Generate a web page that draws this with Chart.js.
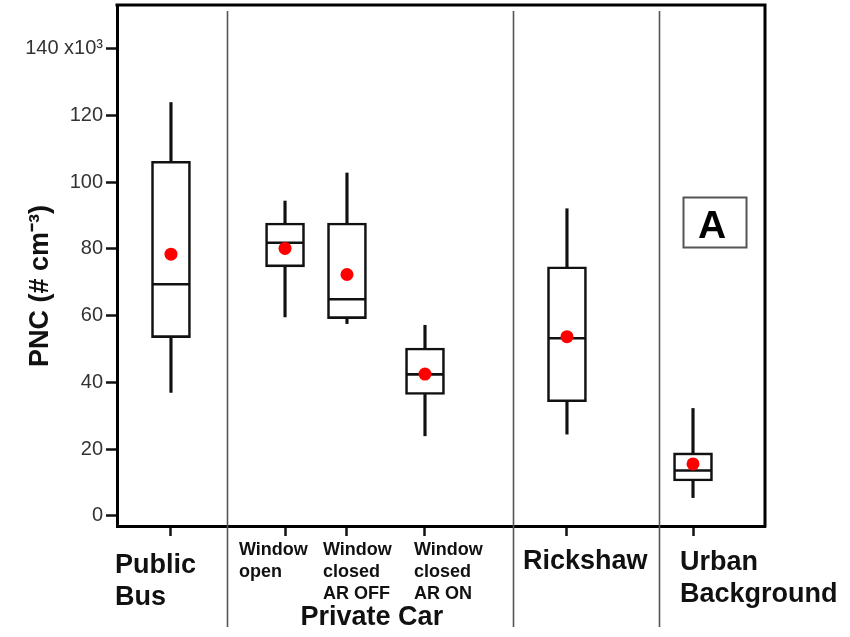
<!DOCTYPE html>
<html>
<head>
<meta charset="utf-8">
<script src="https://cdn.jsdelivr.net/npm/chart.js@4"></script>
<style>
  html, body { margin: 0; padding: 0; background: #fff; }
  #wrap { width: 850px; height: 637px; }
</style>
</head>
<body>
<div id="wrap"><canvas id="c" width="850" height="637"></canvas></div>
<script>
// ---- data ----
const categories = ['Public Bus', 'Window open', 'Window closed AR OFF', 'Window closed AR ON', 'Rickshaw', 'Urban Background'];
const categoryX = [8.33, 25.93, 35.49, 47.53, 69.44, 88.89];   // position of each box on the x axis (0-100)
const separatorsX = [16.93, 61.11, 83.64];                      // group dividers on the x axis
const whiskerLow  = [37.0, 59.6, 57.6, 24.0, 24.5, 5.5];
const q1          = [53.4, 74.6, 59.1, 36.4, 34.2, 10.5];
const median      = [69.4, 81.8, 64.9, 42.4, 53.2, 13.6];
const q3          = [106.2, 87.7, 87.7, 50.3, 74.6, 18.9];
const whiskerHigh = [123.8, 94.3, 102.7, 57.1, 92.0, 32.2];
const mean        = [78.4, 80.1, 72.3, 42.5, 53.7, 15.6];
const yTicks      = [0, 20, 40, 60, 80, 100, 120, 140];
const yTickLabels = ['0', '20', '40', '60', '80', '100', '120', '140 x10³'];
const xLabelLines = [['Public', 'Bus'], ['Window', 'open'], ['Window', 'closed', 'AR OFF'], ['Window', 'closed', 'AR ON'], ['Rickshaw'], ['Urban', 'Background']];
const groupLabel  = 'Private Car';
const yTitle      = 'PNC (# cm⁻³)';
const panelLabel  = 'A';

// ---- layout / style (not data) ----
const FONT = "'Liberation Sans', Arial, sans-serif";
const labelStyle = [
  { dx: -56, ys: [566, 598], size: 27 },
  { dx: -46, ys: [550, 572], size: 18 },
  { dx: -24, ys: [550, 572, 594], size: 18 },
  { dx: -11, ys: [550, 572, 594], size: 18 },
  { dx: -44, ys: [562], size: 27 },
  { dx: -13, ys: [563, 595], size: 27 }
];

const boxData = categoryX.map((x, i) => ({ x: x, y: [q1[i], q3[i]] }));
const lowWhisker = categoryX.map((x, i) => ({ x: x, y: [whiskerLow[i], q1[i]] }));
const highWhisker = categoryX.map((x, i) => ({ x: x, y: [q3[i], whiskerHigh[i]] }));
const medianData = categoryX.map((x, i) => ({ x: x, y: median[i] }));
const meanData = categoryX.map((x, i) => ({ x: x, y: mean[i] }));

const decor = {
  id: 'decor',
  afterDraw(chart) {
    const ctx = chart.ctx;
    const a = chart.chartArea;
    const xs = chart.scales.x;
    ctx.save();
    // frame top and right
    ctx.strokeStyle = '#000';
    ctx.lineWidth = 3;
    ctx.beginPath();
    ctx.moveTo(a.left - 1.5, a.top);
    ctx.lineTo(a.right, a.top);
    ctx.lineTo(a.right, a.bottom + 1.5);
    ctx.stroke();
    // separators
    ctx.strokeStyle = '#555';
    ctx.lineWidth = 1.6;
    separatorsX.forEach(s => {
      const px = Math.round(xs.getPixelForValue(s)) + 0.5;
      ctx.beginPath();
      ctx.moveTo(px, 11);
      ctx.lineTo(px, 627);
      ctx.stroke();
    });
    // category labels
    ctx.fillStyle = '#111';
    ctx.textAlign = 'left';
    ctx.textBaseline = 'middle';
    xLabelLines.forEach((lines, i) => {
      const st = labelStyle[i];
      const px = xs.getPixelForValue(categoryX[i]) + st.dx;
      ctx.font = 'bold ' + st.size + 'px ' + FONT;
      lines.forEach((t, j) => ctx.fillText(t, px, st.ys[j]));
    });
    // group label
    ctx.textAlign = 'center';
    ctx.font = 'bold 27px ' + FONT;
    const gx = (xs.getPixelForValue(separatorsX[0]) + xs.getPixelForValue(separatorsX[1])) / 2;
    ctx.fillText(groupLabel, gx + 2, 618);
    // y title
    ctx.save();
    ctx.translate(41, 286);
    ctx.rotate(-Math.PI / 2);
    ctx.font = 'bold 27px ' + FONT;
    ctx.textAlign = 'center';
    ctx.textBaseline = 'middle';
    ctx.fillText(yTitle, 0, 0);
    ctx.restore();
    // panel label
    ctx.strokeStyle = '#555';
    ctx.lineWidth = 2;
    ctx.strokeRect(683.5, 197.5, 63, 50);
    ctx.fillStyle = '#000';
    ctx.font = 'bold 39px ' + FONT;
    ctx.textAlign = 'center';
    ctx.textBaseline = 'alphabetic';
    ctx.fillText(panelLabel, 712, 238);
    ctx.restore();
  }
};

new Chart(document.getElementById('c'), {
  type: 'bar',
  data: {
    datasets: [
      { type: 'scatter', data: meanData, order: 0, pointStyle: 'circle', pointRadius: 6.5, pointHoverRadius: 6.5,
        pointBackgroundColor: '#ff0000', pointBorderColor: '#ff0000', pointBorderWidth: 0 },
      { type: 'scatter', data: medianData, order: 1, pointStyle: 'line', pointRadius: 18, pointHoverRadius: 18,
        pointBorderColor: '#111', pointBorderWidth: 2.6 },
      { type: 'bar', data: boxData, order: 2, grouped: false, barThickness: 39, backgroundColor: '#fff',
        borderColor: '#111', borderWidth: 2.6, borderSkipped: false },
      { type: 'bar', data: lowWhisker, order: 3, grouped: false, barThickness: 2.5, backgroundColor: '#111', borderWidth: 0 },
      { type: 'bar', data: highWhisker, order: 3, grouped: false, barThickness: 2.5, backgroundColor: '#111', borderWidth: 0 }
    ]
  },
  options: {
    responsive: false,
    devicePixelRatio: 1,
    animation: false,
    layout: { autoPadding: false, padding: { top: 5, right: 85, left: 0, bottom: 0 } },
    plugins: { legend: { display: false }, tooltip: { enabled: false } },
    scales: {
      x: {
        type: 'linear', min: 0, max: 100, offset: false,
        afterBuildTicks: s => { s.ticks = categoryX.map(v => ({ value: v })); },
        afterFit: s => { s.height = 111; s.paddingLeft = 0; s.paddingRight = 0; },
        ticks: { display: false },
        grid: { display: true, offset: false, drawOnChartArea: false, drawTicks: true, tickLength: 10, tickWidth: 2.5, tickColor: '#111' },
        border: { display: true, width: 3, color: '#000' }
      },
      y: {
        type: 'linear', min: -3, max: 153,
        afterBuildTicks: s => { s.ticks = yTicks.map(v => ({ value: v })); },
        afterFit: s => { s.width = 117; s.paddingTop = 0; s.paddingBottom = 0; },
        ticks: {
          font: { family: FONT, size: 20 }, color: '#333', padding: 3,
          callback: (v) => { const i = yTicks.indexOf(v); return i >= 0 ? yTickLabels[i] : ''; }
        },
        grid: { display: true, drawOnChartArea: false, drawTicks: true, tickLength: 11, tickWidth: 2.5, tickColor: '#111' },
        border: { display: true, width: 3, color: '#000' }
      }
    }
  },
  plugins: [decor]
});
</script>
</body>
</html>
